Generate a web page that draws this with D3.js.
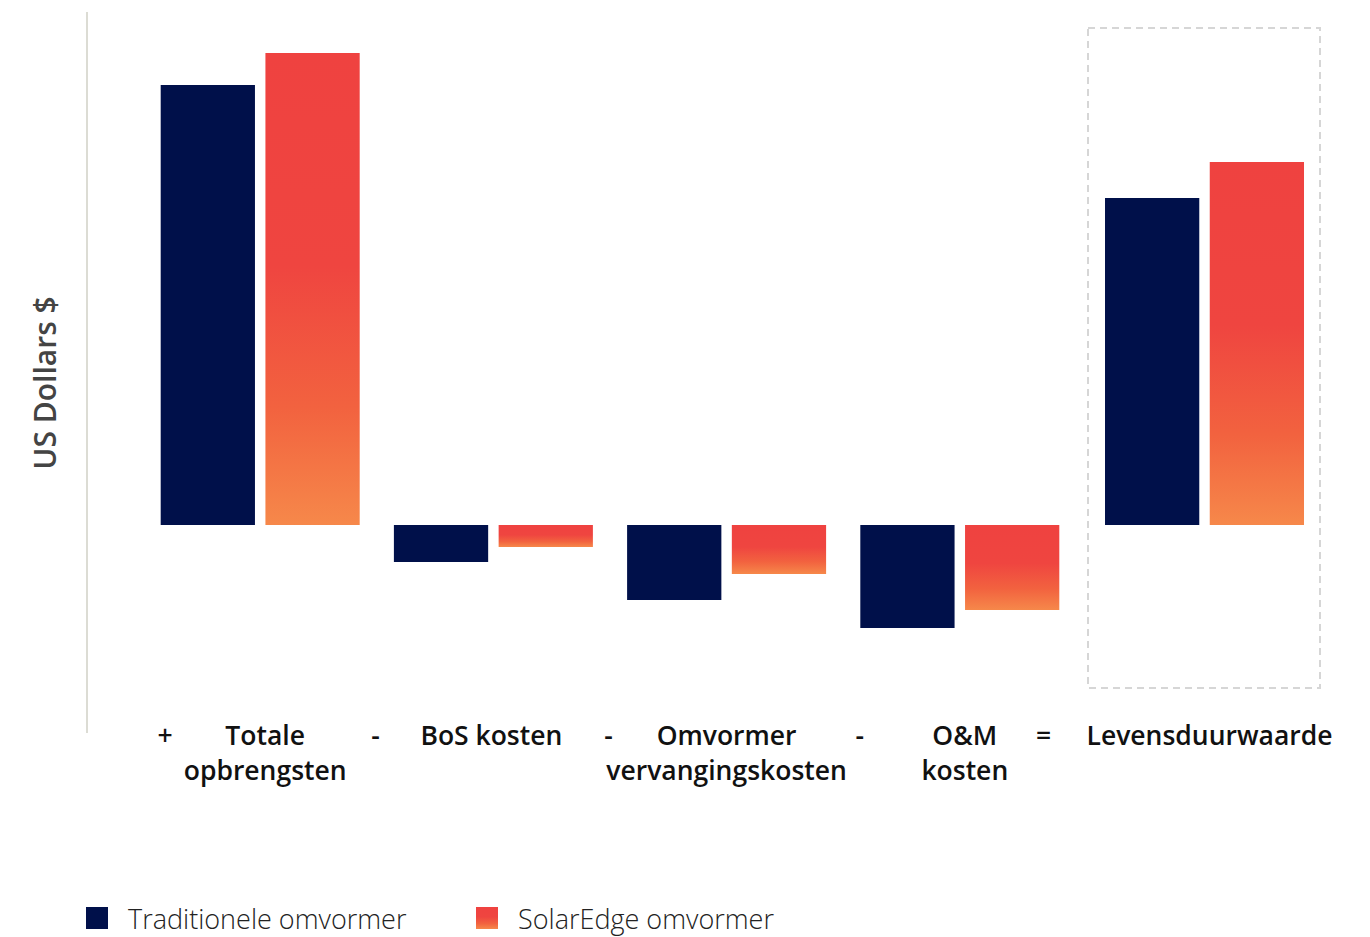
<!DOCTYPE html>
<html>
<head>
<meta charset="utf-8">
<script src="https://cdn.jsdelivr.net/npm/d3@7"></script>
<style>
  html, body { margin: 0; padding: 0; background: #fff; }
  svg { display: block; }
</style>
</head>
<body>
<svg id="chart" width="1370" height="937"></svg>
<script>
// Lifetime value breakdown, traditional vs SolarEdge inverter (relative US$)
const categories = ["Totale opbrengsten", "BoS kosten", "Omvormer vervangingskosten", "O&M kosten", "Levensduurwaarde"];
const labelLines = [["Totale", "opbrengsten"], ["BoS kosten"], ["Omvormer", "vervangingskosten"], ["O&M", "kosten"], ["Levensduurwaarde"]];
const operators = ["+", "-", "-", "-", "="];
const seriesNames = ["Traditionele omvormer", "SolarEdge omvormer"];
const traditional = [440, -37, -75, -103, 327];
const solarEdge = [472, -22, -49, -85, 363];

const NAVY = "#00104A";
const svg = d3.select("#chart");

// vertical gradient used by every SolarEdge bar
const defs = svg.append("defs");
const grad = defs.append("linearGradient")
  .attr("id", "seGrad").attr("x1", 0).attr("y1", 0).attr("x2", 0).attr("y2", 1);
[[0, "#EF4240"], [0.45, "#EF4540"], [0.75, "#F2623F"], [1, "#F6884A"]].forEach(([o, c]) =>
  grad.append("stop").attr("offset", o).attr("stop-color", c));

const y = d3.scaleLinear().domain([-208, 513]).range([733, 12]);
const xBand = d3.scaleBand().domain(categories).range([143.6, 1309.6]).paddingInner(0.1467).paddingOuter(0.0733);
const last = categories[categories.length - 1];
// the summary group sits a little further right, after the "=" sign
const x = c => xBand(c) + (c === last ? 11.5 : 0);
const xs = d3.scaleBand().domain(seriesNames).range([0, xBand.bandwidth()]).paddingInner(0.1);

const rows = categories.map((c, i) => ({ cat: c, values: [traditional[i], solarEdge[i]] }));

// highlight frame around the lifetime value group
svg.append("rect")
  .attr("x", x(last) - 17).attr("y", y(497))
  .attr("width", xBand.bandwidth() + 33).attr("height", y(-163) - y(497))
  .attr("fill", "none").attr("stroke", "#d6d6d6").attr("stroke-width", 2)
  .attr("stroke-dasharray", "7,5");

// left axis line
svg.append("line")
  .attr("x1", 87).attr("x2", 87).attr("y1", y(513)).attr("y2", y(-208))
  .attr("stroke", "#dcdcd4").attr("stroke-width", 2);

// bars
const g = svg.append("g");
g.selectAll("g.cat").data(rows).join("g")
  .attr("class", "cat")
  .attr("transform", d => `translate(${x(d.cat)},0)`)
  .selectAll("rect").data(d => d.values.map((v, j) => ({ v, s: seriesNames[j], j })))
  .join("rect")
  .attr("x", d => xs(d.s))
  .attr("width", xs.bandwidth())
  .attr("y", d => y(Math.max(0, d.v)))
  .attr("height", d => Math.abs(y(d.v) - y(0)))
  .attr("fill", d => d.j === 0 ? NAVY : "url(#seGrad)");

// category labels with operators
const opOffset = [-95, -118, -118, -100, -161];
const labelShift = [5, -2, 0, 5, 5];
const labels = svg.append("g")
  .attr("font-family", "'Open Sans', sans-serif")
  .attr("font-weight", 600)
  .attr("font-size", 26.5)
  .attr("fill", "#111");
categories.forEach((c, i) => {
  const cx = x(c) + xBand.bandwidth() / 2;
  const t = labels.append("text").attr("text-anchor", "middle");
  labelLines[i].forEach((line, k) =>
    t.append("tspan").attr("x", cx + labelShift[i]).attr("y", 745 + k * 35).text(line));
  labels.append("text").attr("text-anchor", "middle")
    .attr("x", cx + opOffset[i]).attr("y", 745).text(operators[i]);
});

// y axis title
svg.append("text")
  .attr("transform", "translate(56,383) rotate(-90)")
  .attr("text-anchor", "middle")
  .attr("font-family", "'Open Sans', sans-serif")
  .attr("font-weight", 600)
  .attr("font-size", 30)
  .attr("fill", "#444")
  .text("US Dollars $");

// legend
const legendX = [86, 476];
const legend = svg.append("g");
seriesNames.forEach((s, i) => {
  legend.append("rect").attr("x", legendX[i]).attr("y", 907).attr("width", 22).attr("height", 22)
    .attr("fill", i === 0 ? NAVY : "url(#seGrad)");
  legend.append("text").attr("x", legendX[i] + 42).attr("y", 929)
    .attr("font-family", "'Open Sans', sans-serif").attr("font-weight", 300)
    .attr("font-size", 27).attr("fill", "#222").text(s);
});
</script>
</body>
</html>
